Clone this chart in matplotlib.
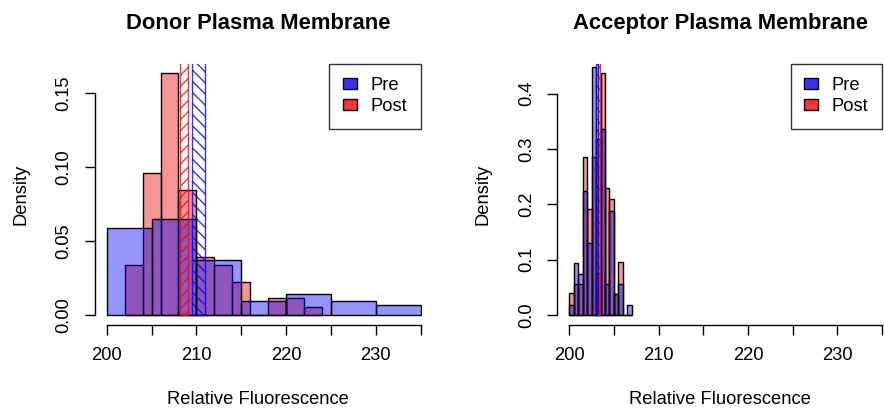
import numpy as np
import matplotlib
matplotlib.use("Agg")
import matplotlib.pyplot as plt

plt.rcParams['font.family'] = ['Liberation Sans', 'DejaVu Sans']

# donor panel: Pre in 5-unit bins, Post in 2-unit bins (density)
donor_pre_edges = [200, 205, 210, 215, 220, 225, 230, 235]
donor_pre = [0.0585, 0.065, 0.0372, 0.0093, 0.014, 0.0093, 0.007]
donor_post_edges = [202, 204, 206, 208, 210, 212, 214, 216, 218, 220, 222, 224]
donor_post = [0.0338, 0.0957, 0.1633, 0.0845, 0.0394, 0.0338, 0.0226, 0.0, 0.0113, 0.0113, 0.0056]
donor_pre_ci = [209.5, 211.0]
donor_post_ci = [208.2, 209.1]

# acceptor panel: both in 0.5-unit bins
acc_edges = [200, 200.5, 201, 201.5, 202, 202.5, 203, 203.5, 204, 204.5,
             205, 205.5, 206, 206.5, 207]
acc_pre = [0.018, 0.094, 0.075, 0.224, 0.131, 0.448, 0.318, 0.336, 0.057,
           0.188, 0.038, 0.057, 0.0, 0.018]
acc_post = [0.039, 0.057, 0.057, 0.285, 0.191, 0.285, 0.076, 0.437, 0.229,
            0.210, 0.038, 0.096, 0.0, 0.0]
acc_pre_ci = [202.95, 203.17]
acc_post_ci = [203.17, 203.43]

xticks = [200, 205, 210, 215, 220, 225, 230, 235]
xticklabels = ['200', '', '210', '', '220', '', '230', '']

titles = ["Donor Plasma Membrane", "Acceptor Plasma Membrane"]

PRE = (0, 0, 0.95, 0.42)
POST = (0.95, 0, 0, 0.42)
FS = 13.2


def hist_panel(ax, title, pre_edges, pre, post_edges, post, pre_ci, post_ci,
               yticks, ylabels):
    post_w = np.diff(post_edges)
    pre_w = np.diff(pre_edges)
    ax.bar(post_edges[:-1], post, width=post_w, align='edge', color=POST,
           edgecolor='black', linewidth=1.0)
    ax.bar(pre_edges[:-1], pre, width=pre_w, align='edge', color=PRE,
           edgecolor='black', linewidth=1.0)

    top = max(post)
    # confidence bands of the means, hatched
    ax.bar(post_ci[0], 10, width=post_ci[1] - post_ci[0], align='edge',
           fill=False, hatch='///', edgecolor=(1, 0, 0, 0.8), linewidth=1.0)
    ax.bar(pre_ci[0], 10, width=pre_ci[1] - pre_ci[0], align='edge',
           fill=False, hatch='\\\\\\', edgecolor=(0, 0, 1, 0.8), linewidth=1.0)

    ax.set_xlim(198.65, 235.15)
    ax.set_ylim(-0.04 * top, 1.04 * top)

    for s in ['top', 'right']:
        ax.spines[s].set_visible(False)
    ax.spines['bottom'].set_bounds(xticks[0], xticks[-1])
    ax.spines['left'].set_bounds(yticks[0], yticks[-1])
    ax.spines['bottom'].set_linewidth(1.0)
    ax.spines['left'].set_linewidth(1.0)

    ax.set_xticks(xticks)
    ax.set_xticklabels(xticklabels, fontsize=FS)
    ax.set_yticks(yticks)
    ax.set_yticklabels(ylabels, fontsize=FS, rotation=90, va='center')
    ax.tick_params(length=7.2, width=1.0, pad=8.6)

    ax.set_xlabel("Relative Fluorescence", fontsize=FS)
    ax.xaxis.set_label_coords(0.5, -0.253)
    ax.set_ylabel("Density", fontsize=FS)
    ax.yaxis.set_label_coords(-0.2, 0.5)
    ax.set_title(title, fontsize=15.8, fontweight='bold', pad=25)

    handles = [plt.Rectangle((0, 0), 1, 1, facecolor=(0, 0, 1, 0.8), edgecolor='black'),
               plt.Rectangle((0, 0), 1, 1, facecolor=(1, 0, 0, 0.8), edgecolor='black')]
    leg = ax.legend(handles, ["Pre", "Post"], loc='upper right',
                    bbox_to_anchor=(235, 1.04 * top), bbox_transform=ax.transData,
                    fontsize=FS, frameon=True, fancybox=False, borderaxespad=0,
                    handlelength=0.73, handleheight=0.55, handletextpad=0.75,
                    borderpad=0.75, labelspacing=0.2)
    leg.get_frame().set_edgecolor('black')
    leg.get_frame().set_linewidth(1.0)


fig = plt.figure(figsize=(8.84, 4.15), dpi=100)
ax1 = fig.add_axes([0.1070, 0.2176, 0.3704, 0.629])
ax2 = fig.add_axes([0.6303, 0.2176, 0.3689, 0.629])

hist_panel(ax1, titles[0], donor_pre_edges, donor_pre, donor_post_edges, donor_post,
           donor_pre_ci, donor_post_ci, [0, 0.05, 0.10, 0.15],
           ['0.00', '0.05', '0.10', '0.15'])
hist_panel(ax2, titles[1], acc_edges, acc_pre, acc_edges, acc_post,
           acc_pre_ci, acc_post_ci, [0, 0.1, 0.2, 0.3, 0.4],
           ['0.0', '0.1', '0.2', '0.3', '0.4'])

fig.savefig("out.png", dpi=100)
